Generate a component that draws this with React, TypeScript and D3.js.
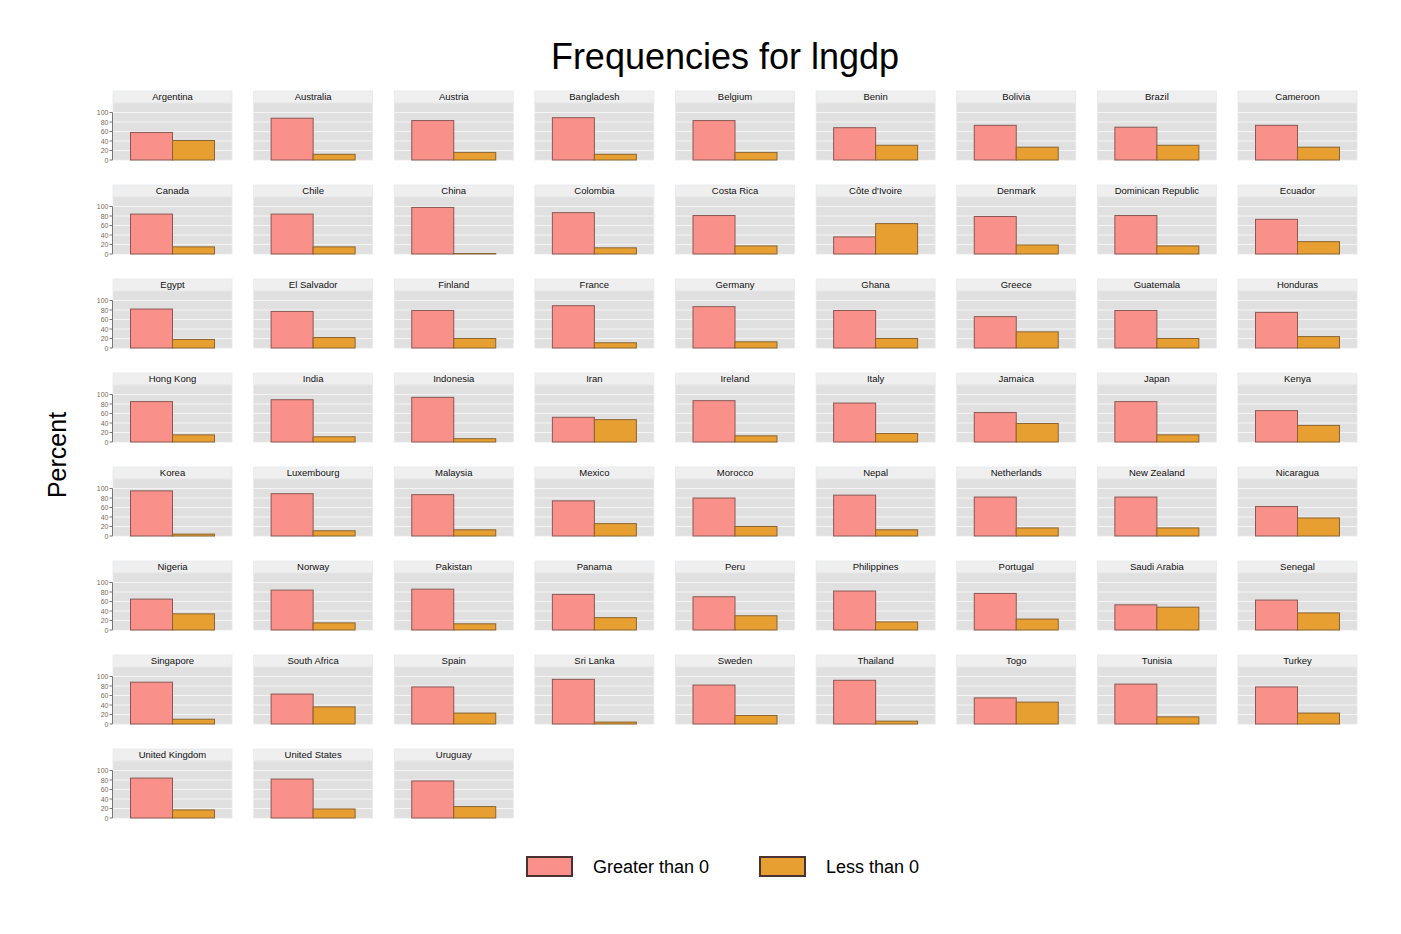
import * as d3 from "d3"

const countries = [
  "Argentina", "Australia", "Austria", "Bangladesh", "Belgium", "Benin", "Bolivia", "Brazil", "Cameroon",
  "Canada", "Chile", "China", "Colombia", "Costa Rica", "Côte d'Ivoire", "Denmark", "Dominican Republic", "Ecuador",
  "Egypt", "El Salvador", "Finland", "France", "Germany", "Ghana", "Greece", "Guatemala", "Honduras",
  "Hong Kong", "India", "Indonesia", "Iran", "Ireland", "Italy", "Jamaica", "Japan", "Kenya",
  "Korea", "Luxembourg", "Malaysia", "Mexico", "Morocco", "Nepal", "Netherlands", "New Zealand", "Nicaragua",
  "Nigeria", "Norway", "Pakistan", "Panama", "Peru", "Philippines", "Portugal", "Saudi Arabia", "Senegal",
  "Singapore", "South Africa", "Spain", "Sri Lanka", "Sweden", "Thailand", "Togo", "Tunisia", "Turkey",
  "United Kingdom", "United States", "Uruguay",
]

// percent of observations with lngdp growth > 0
const greaterPct = [
  58, 88, 83, 89, 83, 68, 73, 69, 73,
  84, 84, 98, 87, 81, 36, 79, 81, 73,
  82, 77, 79, 89, 87, 79, 66, 79, 75,
  85, 89, 94, 52, 87, 82, 62, 85, 66,
  95, 89, 87, 74, 80, 86, 82, 82, 62,
  65, 84, 86, 75, 70, 82, 77, 53, 63,
  88, 63, 78, 94, 82, 92, 55, 84, 78,
  84, 82, 78,
]

// percent of observations with lngdp growth < 0
const lessPct = [
  41, 12, 16, 12, 16, 31, 27, 31, 27,
  15, 15, 1, 13, 17, 64, 19, 17, 26,
  18, 22, 20, 11, 13, 20, 34, 20, 24,
  15, 11, 7, 47, 13, 18, 39, 15, 35,
  4, 11, 13, 26, 20, 13, 17, 17, 38,
  34, 15, 13, 26, 30, 17, 23, 48, 36,
  10, 36, 23, 4, 18, 6, 46, 15, 23,
  17, 19, 24,
]

const groups = ["Greater than 0", "Less than 0"]
const yTicks = [0, 20, 40, 60, 80, 100]

const fills = ["#F9918A", "#E89F32"]
const strokes = ["#8a5853", "#8a6430"]
const font = "'Liberation Sans', Arial, sans-serif"

const W = 1401
const H = 934
const nCols = 9
const panelW = 119
const stripH = 12
const plotH = 57

export default function App() {
  const colX = d3.scaleLinear().domain([0, nCols - 1]).range([113, 1238])
  const rowY = d3.scaleLinear().domain([0, 7]).range([91, 749])
  const x = d3.scaleBand().domain(groups).range([0, panelW]).paddingInner(0).paddingOuter(0.417)
  const y = d3.scaleLinear().domain([0, 120]).range([plotH, 0])

  return (
    <svg
      width={W}
      height={H}
      style={{ position: "absolute", left: 0, top: 0, display: "block", background: "#fff" }}
      fontFamily={font}
    >
      <text x={725} y={69} textAnchor="middle" fontSize={36} fill="#000">
        Frequencies for lngdp
      </text>
      <text transform="translate(66,455) rotate(-90)" textAnchor="middle" fontSize={25} fill="#000">
        Percent
      </text>

      {countries.map((c, i) => {
        const col = i % nCols
        const row = Math.floor(i / nCols)
        const px = colX(col)
        const py = rowY(row)
        const vals = [greaterPct[i], lessPct[i]]
        return (
          <g key={c} transform={`translate(${px},${py})`}>
            <rect x={0} y={0} width={panelW} height={stripH} fill="#efefef" stroke="#e4e9ec" strokeWidth={0.8} />
            <text x={panelW / 2} y={9} textAnchor="middle" fontSize={9.5} fill="#111">
              {c}
            </text>
            <g transform={`translate(0,${stripH})`}>
              <rect x={0} y={0} width={panelW} height={plotH} fill="#e0e0e0" stroke="#e9e9e9" strokeWidth={0.8} />
              {yTicks.slice(1).map((t) => (
                <line key={t} x1={0} x2={panelW} y1={y(t)} y2={y(t)} stroke="#f4f4f4" strokeWidth={1} />
              ))}
              {groups.map((g, j) => (
                <rect
                  key={g}
                  x={x(g)!}
                  y={y(vals[j])}
                  width={x.bandwidth()}
                  height={y(0) - y(vals[j])}
                  fill={fills[j]}
                  stroke={strokes[j]}
                  strokeWidth={1}
                />
              ))}
              {col === 0 && (
                <g>
                  <line x1={-0.5} x2={-0.5} y1={y(0)} y2={y(100)} stroke="#777" strokeWidth={1} />
                  {yTicks.map((t) => (
                    <g key={t}>
                      <line x1={-3.5} x2={-0.5} y1={y(t)} y2={y(t)} stroke="#777" strokeWidth={1} />
                      <text x={-4.5} y={y(t) + 2.5} textAnchor="end" fontSize={7} fill="#7d6b58">
                        {t}
                      </text>
                    </g>
                  ))}
                </g>
              )}
            </g>
          </g>
        )
      })}

      {groups.map((g, j) => (
        <g key={g} transform={`translate(${j === 0 ? 527 : 760},857)`}>
          <rect x={0} y={0} width={45} height={19} fill={fills[j]} stroke="#4a3232" strokeWidth={2} />
          <text x={66} y={16} fontSize={18} fill="#000">
            {g}
          </text>
        </g>
      ))}
    </svg>
  )
}
